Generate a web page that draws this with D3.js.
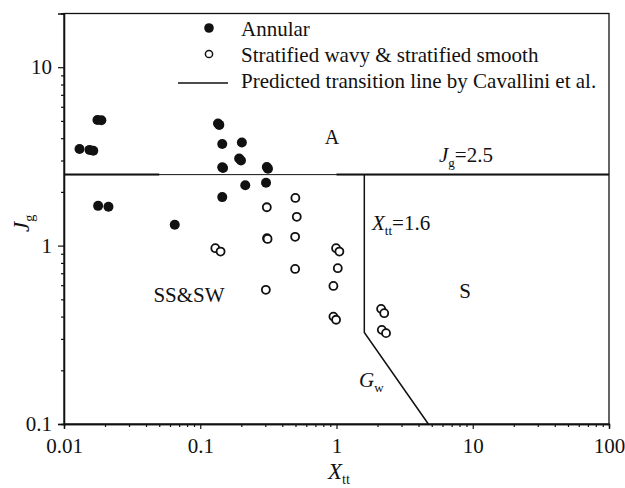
<!DOCTYPE html>
<html>
<head>
<meta charset="utf-8">
<script src="https://cdn.jsdelivr.net/npm/d3@7"></script>
<style>
  body { margin: 0; background: #fff; }
</style>
</head>
<body>
<div id="chart"></div>
<script>
// values
var annular = [
    [0.0130, 3.48], [0.0154, 3.44], [0.0164, 3.40], [0.0176, 5.06], [0.0188, 5.04],
    [0.0178, 1.67], [0.0212, 1.65], [0.065, 1.31],
    [0.135, 4.83], [0.138, 4.75], [0.145, 3.71], [0.202, 3.78], [0.193, 3.08], [0.199, 3.00],
    [0.145, 2.75], [0.147, 2.72], [0.308, 2.76], [0.314, 2.70], [0.214, 2.18], [0.304, 2.25],
    [0.145, 1.87]
];
var stratified = [
    [0.499, 1.85], [0.308, 1.64], [0.511, 1.45], [0.309, 1.10], [0.312, 1.09], [0.497, 1.12],
    [0.129, 0.967], [0.141, 0.926], [0.497, 0.740], [0.303, 0.565],
    [0.993, 0.967], [1.05, 0.926], [1.022, 0.747], [0.949, 0.594], [0.949, 0.400], [0.993, 0.384],
    [2.125, 0.442], [2.24, 0.418], [2.15, 0.337], [2.31, 0.323]
];
var jgLine = [[0.01, 2.5], [100, 2.5]];
var jgLineBold = [[[0.01, 2.5], [0.05, 2.5]], [[1, 2.5], [100, 2.5]]];
var xttLine = [[1.6, 2.5], [1.6, 0.326], [4.72, 0.1]];
var legendLabels = ["Annular", "Stratified wavy & stratified smooth", "Predicted transition line by Cavallini et al."];
var xMajor = [0.01, 0.1, 1, 10, 100];
var xLabels = ["0.01", "0.1", "1", "10", "100"];
var yMajor = [0.1, 1, 10];
var yLabels = ["0.1", "1", "10"];

var FONT = "Liberation Serif";
var width = 625, height = 488;
var margin = {top: 13.5, right: 16, bottom: 64, left: 64};

var svg = d3.select("#chart").append("svg")
    .attr("width", width)
    .attr("height", height);

var x = d3.scaleLog().domain([0.01, 100]).range([margin.left, width - margin.right]);
var y = d3.scaleLog().domain([0.1, 20]).range([height - margin.bottom, margin.top]);

function minors(lo, hi) {
    var out = [];
    for (var d = lo; d < hi; d *= 10) {
        for (var k = 2; k <= 9; k++) out.push(d * k);
    }
    return out;
}

// frame
svg.append("rect")
    .attr("x", margin.left).attr("y", margin.top)
    .attr("width", width - margin.right - margin.left)
    .attr("height", height - margin.bottom - margin.top)
    .attr("fill", "none").attr("stroke", "#111").attr("stroke-width", 1.3);

// x axis
var gx = svg.append("g").attr("transform", "translate(0," + (height - margin.bottom) + ")");
gx.call(d3.axisBottom(x).tickValues(xMajor).tickSize(5).tickPadding(9)
    .tickFormat(function(d, i) { return xLabels[i]; }));
gx.append("g").call(d3.axisBottom(x).tickValues(minors(0.01, 100)).tickSize(3).tickFormat(""));

// y axis
var gy = svg.append("g").attr("transform", "translate(" + margin.left + ",0)");
gy.call(d3.axisLeft(y).tickValues(yMajor).tickSize(6).tickPadding(6)
    .tickFormat(function(d, i) { return yLabels[i]; }));
gy.append("g").call(d3.axisLeft(y).tickValues(minors(0.1, 10)).tickSize(3).tickFormat(""));

svg.selectAll(".domain").attr("stroke", "#111").attr("stroke-width", 1.3);
svg.selectAll(".tick line").attr("stroke", "#111").attr("stroke-width", 1.2);

// transition lines
var line = d3.line().x(function(d) { return x(d[0]); }).y(function(d) { return y(d[1]); });

svg.append("path").datum(jgLine).attr("d", line)
    .attr("fill", "none").attr("stroke", "#111").attr("stroke-width", 1);
jgLineBold.forEach(function(seg) {
    svg.append("path").datum(seg).attr("d", line)
        .attr("fill", "none").attr("stroke", "#111").attr("stroke-width", 2);
});
svg.append("path").datum(xttLine).attr("d", line)
    .attr("fill", "none").attr("stroke", "#111").attr("stroke-width", 1.5);

// points
svg.append("g").selectAll("circle").data(annular).enter().append("circle")
    .attr("cx", function(d) { return x(d[0]); })
    .attr("cy", function(d) { return y(d[1]); })
    .attr("r", 5)
    .attr("fill", "#111");

svg.append("g").selectAll("circle").data(stratified).enter().append("circle")
    .attr("cx", function(d) { return x(d[0]); })
    .attr("cy", function(d) { return y(d[1]); })
    .attr("r", 4)
    .attr("fill", "#fff").attr("stroke", "#111").attr("stroke-width", 1.8);

// legend
var legend = svg.append("g");
legendLabels.forEach(function(label, i) {
    var ly = 31 + i * 26;
    if (i === 0) {
        legend.append("circle").attr("cx", 209).attr("cy", ly - 3).attr("r", 4.8).attr("fill", "#111");
    } else if (i === 1) {
        legend.append("circle").attr("cx", 209).attr("cy", ly - 3).attr("r", 3.6)
            .attr("fill", "#fff").attr("stroke", "#111").attr("stroke-width", 1.5);
    } else {
        legend.append("line").attr("x1", 178).attr("x2", 228).attr("y1", ly).attr("y2", ly)
            .attr("stroke", "#111").attr("stroke-width", 1.3);
    }
    legend.append("text").attr("x", 241).attr("y", ly + 5)
        .attr("font-size", 21).text(label);
});

// annotations
function subText(tx, ty, main, sub, rest, size) {
    var t = svg.append("text").attr("x", tx).attr("y", ty).attr("font-size", size);
    t.append("tspan").attr("font-style", "italic").text(main);
    t.append("tspan").attr("font-size", size * 0.62).attr("dy", 5).text(sub);
    if (rest) t.append("tspan").attr("dy", -5).text(rest);
    return t;
}

svg.append("text").attr("x", 332).attr("y", 144).attr("text-anchor", "middle")
    .attr("font-size", 20).text("A");
subText(439, 162, "J", "g", "=2.5", 21);
subText(372, 230, "X", "tt", "=1.6", 21);
svg.append("text").attr("x", 465).attr("y", 298).attr("text-anchor", "middle")
    .attr("font-size", 21).text("S");
subText(359, 387, "G", "w", null, 21);
svg.append("text").attr("x", 189).attr("y", 302).attr("text-anchor", "middle")
    .attr("font-size", 21).text("SS&SW");

// axis titles
subText(328, 479, "X", "tt", null, 23);
var yt = subText(0, 0, "J", "g", null, 23);
yt.attr("x", null).attr("y", null)
    .attr("transform", "translate(29,232) rotate(-90)");

// one serif font on every text, tick labels included
svg.selectAll("text").attr("font-family", FONT).attr("fill", "#111");
svg.selectAll(".tick text").attr("font-size", 21);
</script>
</body>
</html>
